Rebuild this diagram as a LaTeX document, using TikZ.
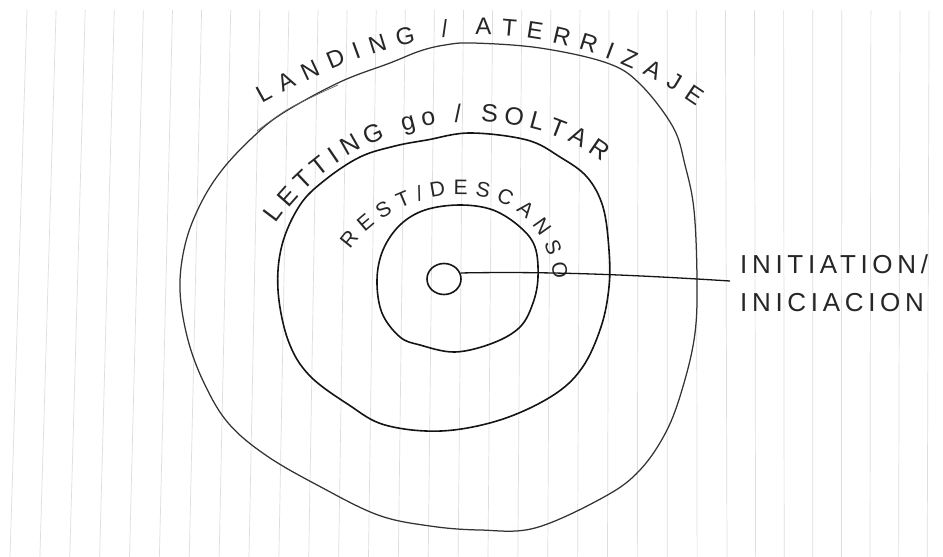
\documentclass[tikz,border=0pt]{standalone}
\usepackage{fontspec}
\setmainfont{Liberation Sans}
\usetikzlibrary{decorations.text,shapes.geometric}
\begin{document}
\begin{tikzpicture}[x=1pt,y=-1pt,
  paperline/.style={draw=black!13, line width=0.7pt},
  ring/.style={draw=black!92, line width=1.6pt, line cap=round},
  ringouter/.style={draw=black!80, line width=1.25pt},
  curvetext/.style={decorate, decoration={text along path, text align=fit to path, text color=black!85}},
  labeltext/.style={inner sep=0pt, align=left, text=black!85}
]
\useasboundingbox (0,0) rectangle (943,557);
\fill[white] (0,0) rectangle (943,557);

% lined paper
\foreach \k in {0,...,31}{
  \pgfmathsetmacro{\xt}{27+29.1*\k}
  \pgfmathsetmacro{\xb}{\k<25 ? 10+29.875*\k : 727+28.6*(\k-24)}
  \draw[paperline] (\xt,10) -- (\xb,557);
}

% outer ring
\draw[ringouter] plot[smooth cycle, tension=0.6] coordinates {
 (253,137) (283,113) (340,82) (390,63) (420,51) (445,45) (473,43) (540,48)
 (607,63) (640,84) (673,127) (685,165) (694,210) (697,280) (695,333) (684,383)
 (667,430) (640,470) (604,497) (535,528) (480,530) (430,526) (378,515) (319,486)
 (267,456) (229,424) (205,385) (188,340) (180,290) (185,245) (200,205) (222,170)};
\draw[black!60, line width=0.7pt] plot[smooth, tension=0.6] coordinates {(257,131) (285,111) (312,97) (338,85)};

% middle ring
\draw[ring] plot[smooth cycle, tension=0.6] coordinates {
 (427,140) (470,133) (527,140) (560,157) (587,177) (603,207) (609,250) (609,287)
 (601,327) (582,368) (552,396) (500,420) (441,431) (385,425) (349,405) (309,375)
 (288,340) (278,290) (282,245) (300,205) (325,180) (360,157) (395,146)};

% inner ring
\draw[ring] plot[smooth cycle, tension=0.6] coordinates {
 (460,205) (493,210) (520,227) (535,247) (538,277) (533,303) (520,327) (493,343)
 (455,352) (420,345) (400,337) (382,313) (377,280) (383,250) (400,225) (425,210)};

% centre
\node[draw=black!92, ellipse, line width=1.6pt, minimum width=34pt, minimum height=31pt, inner sep=0pt] (core) at (444,279) {};

% labels along the rings
\path[curvetext, decoration={text={|\fontsize{24}{24}\selectfont|LANDING / ATERRIZAJE}}]
  (262,104) .. controls (330,66) and (400,38) .. (470,35) .. controls (560,32) and (640,66) .. (697,106);
\path[curvetext, decoration={text={|\fontsize{25}{25}\selectfont|LETTING go / SOLTAR}}]
  (276,224) .. controls (312,174) and (365,134) .. (440,124) .. controls (510,116) and (562,132) .. (602,162);
\path[curvetext, decoration={text={|\fontsize{21}{21}\selectfont|REST/DESCANSO}}]
  (350,250) .. controls (378,210) and (430,193) .. (465,195) .. controls (512,198) and (547,225) .. (554,280);

% initiation label and connector
\node[labeltext, anchor=north west, font=\fontsize{26}{38}\selectfont\addfontfeatures{LetterSpace=18}] (init) at (740,254) {INITIATION/\\INICIACION};
\coordinate (lineend) at (730,281);
\draw[black!92, line width=1.3pt] (core.20) .. controls (560,271) and (650,276) .. (lineend);
\end{tikzpicture}
\end{document}
